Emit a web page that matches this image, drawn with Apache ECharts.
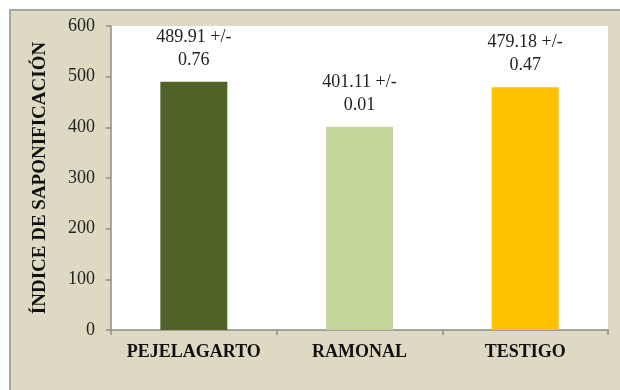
<!DOCTYPE html>
<html>
<head>
<meta charset="utf-8">
<script src="https://cdn.jsdelivr.net/npm/echarts@6/dist/echarts.min.js"></script>
<style>
html,body{margin:0;padding:0;background:#fff;}
#c{width:620px;height:390px;}
</style>
</head>
<body>
<div id="c"></div>
<script>
const categories = ['PEJELAGARTO', 'RAMONAL', 'TESTIGO'];
const values = [489.91, 401.11, 479.18];
const errors = [0.76, 0.01, 0.47];
const barColors = ['#4F6228', '#C3D69B', '#FFC000'];
const yTicks = [0, 100, 200, 300, 400, 500, 600];
const yTitle = 'ÍNDICE DE SAPONIFICACIÓN';

const serif = '"Liberation Serif", "Times New Roman", serif';
const chart = echarts.init(document.getElementById('c'), null, {renderer: 'canvas'});
chart.setOption({
  animation: false,
  backgroundColor: '#ffffff',
  graphic: [{
    type: 'rect', z: -10, silent: true,
    shape: {x: 10, y: 10, width: 700, height: 500},
    style: {fill: '#DDD9C3', stroke: '#A6A6A6', lineWidth: 2}
  }],
  grid: {left: 111, right: 12, top: 26, bottom: 60, show: true, backgroundColor: '#ffffff', borderWidth: 0},
  xAxis: {
    type: 'category',
    data: categories,
    axisLine: {lineStyle: {color: '#8C8C8C', width: 1.5}},
    axisTick: {show: true, length: 5, alignWithLabel: false, lineStyle: {color: '#8C8C8C', width: 1.5}},
    axisLabel: {interval: 0, hideOverlap: false, fontFamily: serif, fontSize: 18, fontWeight: 'bold', color: '#111', margin: 13}
  },
  yAxis: {
    type: 'value',
    min: yTicks[0], max: yTicks[yTicks.length - 1], interval: 100,
    name: yTitle,
    nameLocation: 'middle',
    nameRotate: 90,
    nameGap: 61,
    nameTextStyle: {fontFamily: serif, fontSize: 19, fontWeight: 'bold', color: '#111'},
    axisLine: {show: true, lineStyle: {color: '#8C8C8C', width: 1.5}},
    axisTick: {show: true, length: 5, lineStyle: {color: '#8C8C8C', width: 1.5}},
    splitLine: {show: false},
    axisLabel: {fontFamily: serif, fontSize: 18, color: '#222', margin: 16}
  },
  series: [{
    type: 'bar',
    barWidth: 67,
    data: values.map((v, i) => ({value: v, itemStyle: {color: barColors[i]}})),
    label: {
      show: true,
      position: 'top',
      distance: 10,
      fontFamily: serif,
      fontSize: 18,
      lineHeight: 23,
      color: '#222',
      align: 'center',
      formatter: p => values[p.dataIndex].toFixed(2) + ' +/-\n' + errors[p.dataIndex].toFixed(2)
    }
  }]
});
</script>
</body>
</html>
